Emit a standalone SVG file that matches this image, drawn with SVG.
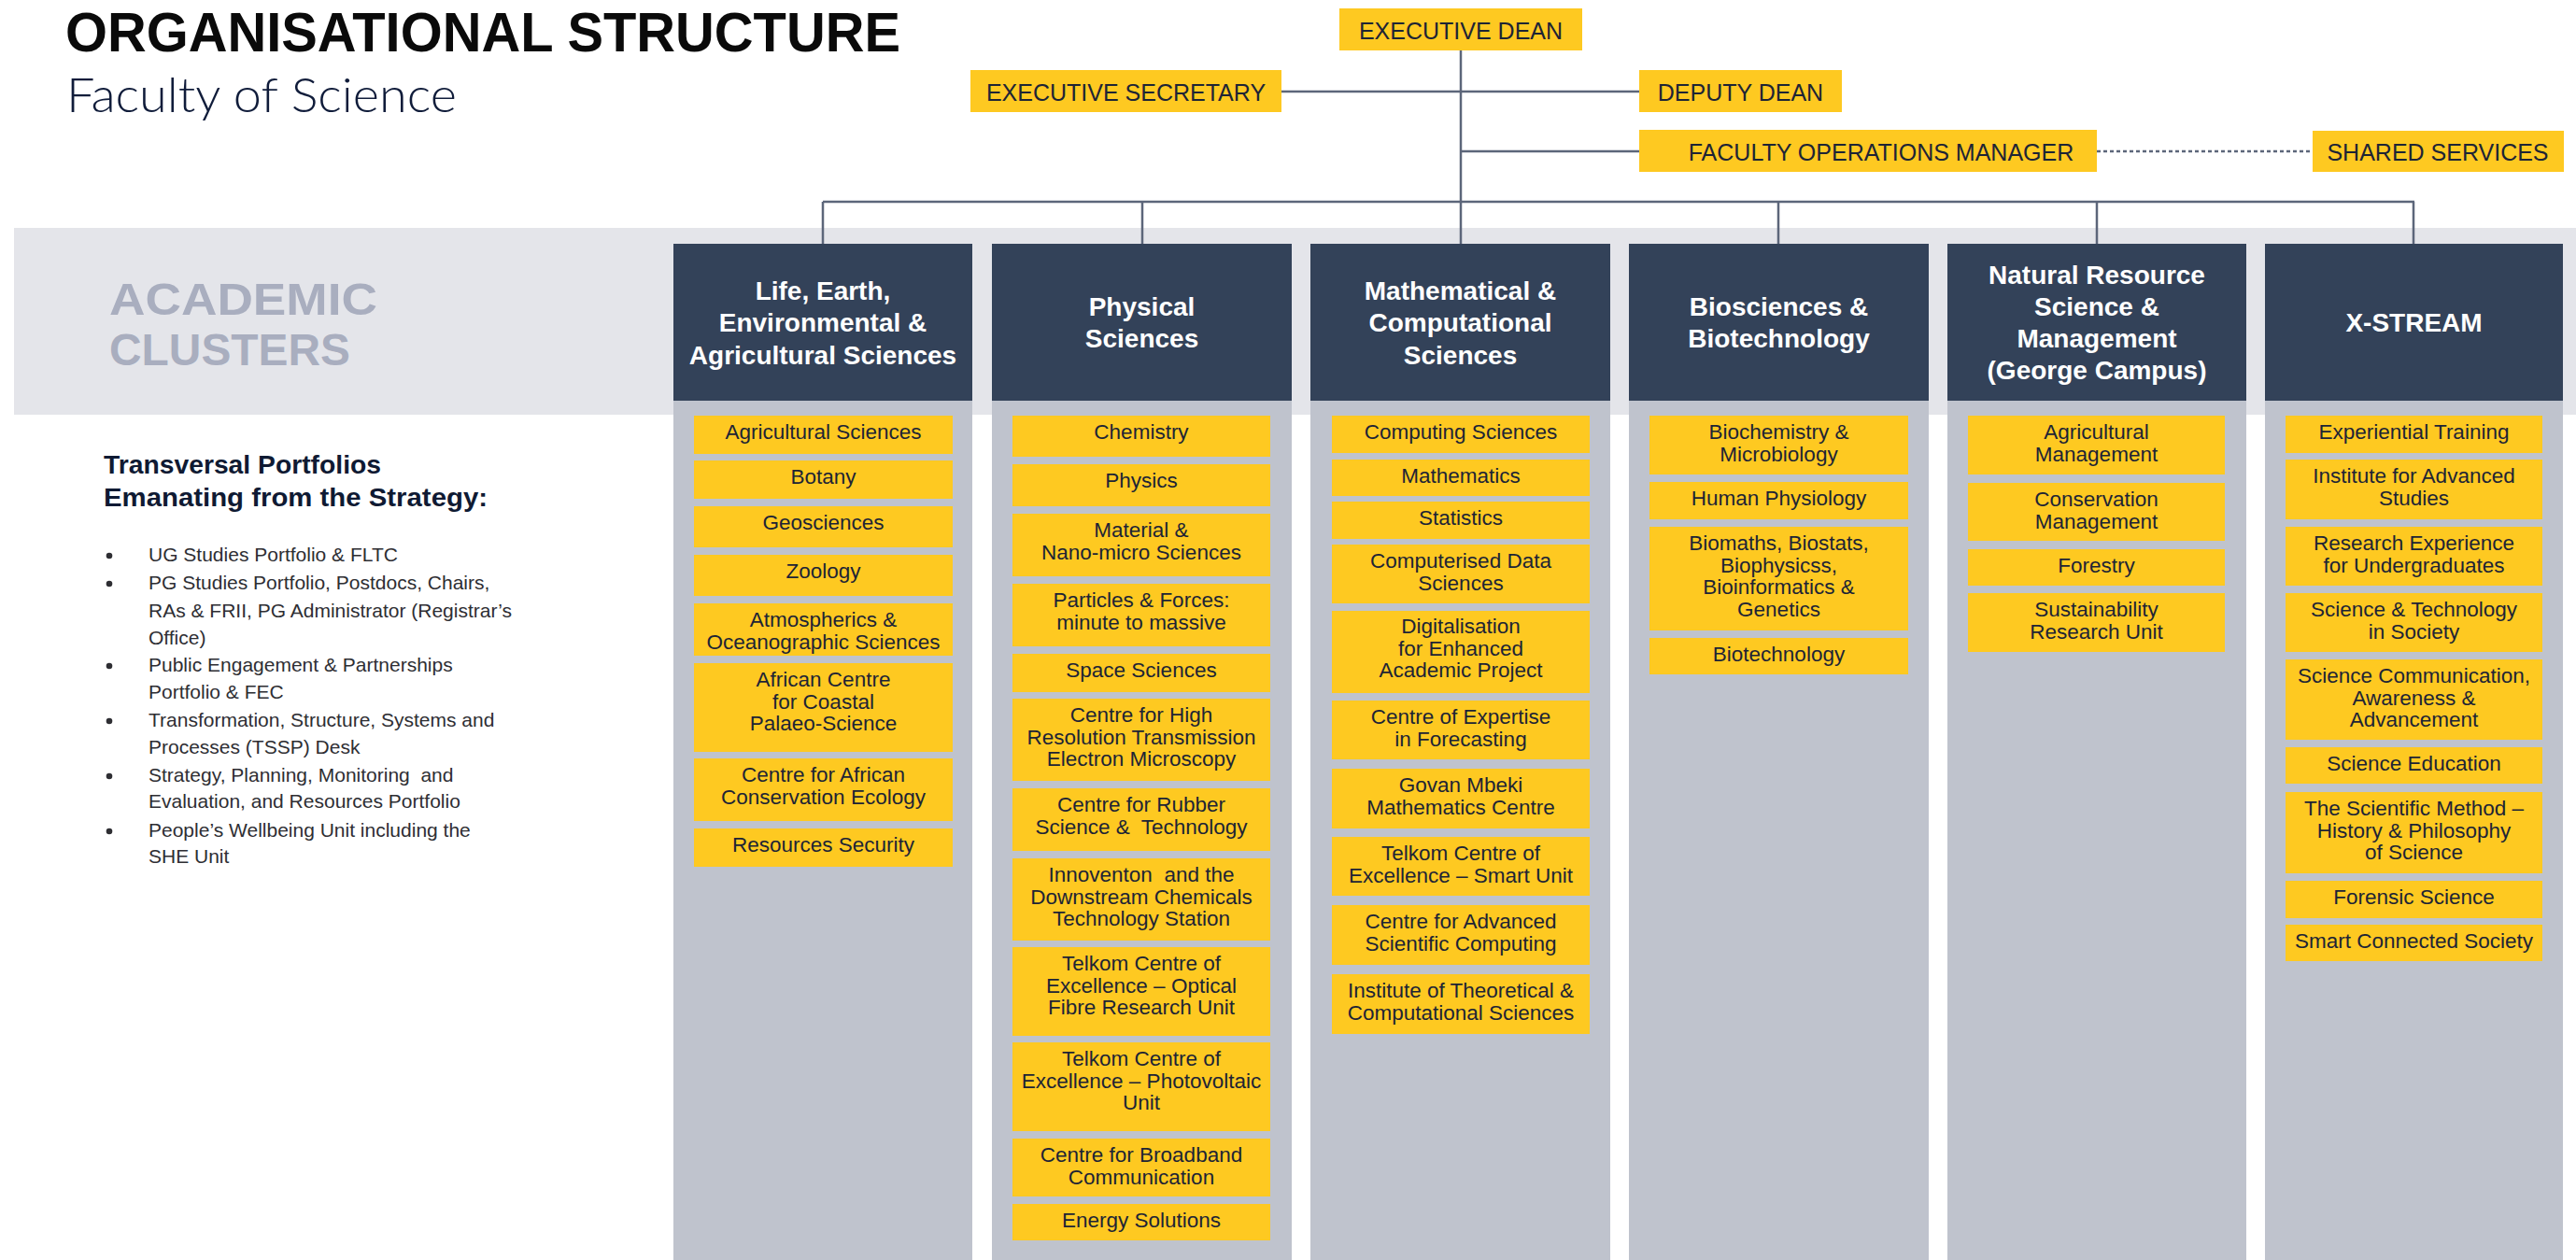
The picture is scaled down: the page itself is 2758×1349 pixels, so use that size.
<svg xmlns="http://www.w3.org/2000/svg" width="2758" height="1349" viewBox="0 0 2758 1349">
<style>
.t{font-family:"Liberation Sans",Arial,sans-serif}
.box{fill:#FEC921}
.hdr{fill:#334259}
.col{fill:#BFC3CD}
.it{font-family:"Liberation Sans",Arial,sans-serif;font-size:22.5px;fill:#1d2435;text-anchor:middle}
.pre{white-space:pre}
.ht{font-family:"Liberation Sans",Arial,sans-serif;font-size:28px;font-weight:bold;fill:#ffffff;text-anchor:middle}
.top{font-family:"Liberation Sans",Arial,sans-serif;font-size:25px;fill:#1d2435;text-anchor:middle}
.ln{stroke:#5c667a;stroke-width:2.5;fill:none}
.bl{font-family:"Liberation Sans",Arial,sans-serif;font-size:21px;fill:#2e2e33}
</style>
<rect width="2758" height="1349" fill="#ffffff"/>
<!-- band -->
<rect x="15" y="244" width="2743" height="200" fill="#E4E5EA"/>
<!-- titles -->
<g id="title">
<text class="t" x="70" y="55" font-size="60" font-weight="bold" fill="#0a0a0a" textLength="894" lengthAdjust="spacingAndGlyphs">ORGANISATIONAL STRUCTURE</text>
<text x="71" y="120" font-family="Lato,'Liberation Sans',sans-serif" font-weight="300" font-size="52" fill="#101c3a" textLength="418" lengthAdjust="spacingAndGlyphs">Faculty of Science</text>
</g>
<g id="academic-clusters-label">
<text class="t" x="117" y="337" font-size="48" font-weight="bold" fill="#A9AEBF" textLength="287" lengthAdjust="spacingAndGlyphs">ACADEMIC</text>
<text class="t" x="117" y="391" font-size="48" font-weight="bold" fill="#A9AEBF" textLength="258" lengthAdjust="spacingAndGlyphs">CLUSTERS</text>
</g>
<g id="transversal">
<text class="t" x="111" y="507" font-size="28" font-weight="bold" fill="#0f1a33" textLength="297" lengthAdjust="spacingAndGlyphs">Transversal Portfolios</text>
<text class="t" x="111" y="542" font-size="28" font-weight="bold" fill="#0f1a33" textLength="411" lengthAdjust="spacingAndGlyphs">Emanating from the Strategy:</text>
<g fill="#2e2e33">
<circle cx="117" cy="595" r="3.3"/>
<circle cx="117" cy="625" r="3.3"/>
<circle cx="117" cy="713" r="3.3"/>
<circle cx="117" cy="772" r="3.3"/>
<circle cx="117" cy="831" r="3.3"/>
<circle cx="117" cy="890" r="3.3"/>
</g>
<text class="bl pre" x="159" y="601">UG Studies Portfolio &amp; FLTC</text>
<text class="bl pre" x="159" y="631">PG Studies Portfolio, Postdocs, Chairs,</text>
<text class="bl pre" x="159" y="661">RAs &amp; FRII, PG Administrator (Registrar’s</text>
<text class="bl pre" x="159" y="690">Office)</text>
<text class="bl pre" x="159" y="719">Public Engagement &amp; Partnerships</text>
<text class="bl pre" x="159" y="748">Portfolio &amp; FEC</text>
<text class="bl pre" x="159" y="778">Transformation, Structure, Systems and</text>
<text class="bl pre" x="159" y="807">Processes (TSSP) Desk</text>
<text class="bl pre" x="159" y="837">Strategy, Planning, Monitoring  and</text>
<text class="bl pre" x="159" y="865">Evaluation, and Resources Portfolio</text>
<text class="bl pre" x="159" y="896">People’s Wellbeing Unit including the</text>
<text class="bl pre" x="159" y="924">SHE Unit</text>
</g>

<!-- connectors -->
<g id="connectors">
<path class="ln" d="M1564 54 V261"/>
<path class="ln" d="M1372 98 H1755"/>
<path class="ln" d="M1564 162 H1755"/>
<path class="ln" d="M2245 162 H2476" stroke-dasharray="4 3" stroke-width="3"/>
<path class="ln" d="M881 216 H2585"/>
<path class="ln" d="M881 216 V261 M1223 216 V261 M1904 216 V261 M2245 216 V261 M2584 216 V261"/>
</g>

<!-- top nodes -->
<g id="executive-dean"><rect class="box" x="1434" y="9" width="260" height="45"/><text class="top" x="1564" y="42">EXECUTIVE DEAN</text></g>
<g id="executive-secretary"><rect class="box" x="1039" y="75" width="333" height="45"/><text class="top" x="1205.5" y="108">EXECUTIVE SECRETARY</text></g>
<g id="deputy-dean"><rect class="box" x="1755" y="75" width="217" height="45"/><text class="top" x="1863.5" y="108">DEPUTY DEAN</text></g>
<g id="faculty-operations-manager"><rect class="box" x="1755" y="139" width="490" height="45"/><text class="top" x="2014" y="172">FACULTY OPERATIONS MANAGER</text></g>
<g id="shared-services"><rect class="box" x="2476" y="140" width="269" height="44"/><text class="top" x="2610" y="172">SHARED SERVICES</text></g>

<!-- column 1 -->
<g id="cluster-life-earth">
<rect class="col" x="721" y="429" width="320" height="920"/>
<rect class="hdr" x="721" y="261" width="320" height="168"/>
<text class="ht"><tspan x="881" y="321">Life, Earth,</tspan><tspan x="881" y="355.3">Environmental &amp;</tspan><tspan x="881" y="389.6">Agricultural Sciences</tspan></text>
</g>
<g id="c1-agri"><rect class="box" x="743" y="445" width="277" height="41"/><text class="it" x="881.5" y="470">Agricultural Sciences</text></g>
<g id="c1-botany"><rect class="box" x="743" y="493" width="277" height="41"/><text class="it" x="881.5" y="518">Botany</text></g>
<g id="c1-geo"><rect class="box" x="743" y="542" width="277" height="44"/><text class="it" x="881.5" y="567">Geosciences</text></g>
<g id="c1-zoo"><rect class="box" x="743" y="594" width="277" height="44"/><text class="it" x="881.5" y="619">Zoology</text></g>
<g id="c1-atmos"><rect class="box" x="743" y="646" width="277" height="56"/><text class="it"><tspan x="881.5" y="671">Atmospherics &amp;</tspan><tspan x="881.5" y="694.7">Oceanographic Sciences</tspan></text></g>
<g id="c1-african-coastal"><rect class="box" x="743" y="710" width="277" height="95"/><text class="it"><tspan x="881.5" y="735">African Centre</tspan><tspan x="881.5" y="758.7">for Coastal</tspan><tspan x="881.5" y="782.4">Palaeo-Science</tspan></text></g>
<g id="c1-conservation"><rect class="box" x="743" y="812" width="277" height="67"/><text class="it"><tspan x="881.5" y="837">Centre for African</tspan><tspan x="881.5" y="860.7">Conservation Ecology</tspan></text></g>
<g id="c1-resources"><rect class="box" x="743" y="887" width="277" height="41"/><text class="it" x="881.5" y="912">Resources Security</text></g>

<!-- column 2 -->
<g id="cluster-physical">
<rect class="col" x="1062" y="429" width="321" height="920"/>
<rect class="hdr" x="1062" y="261" width="321" height="168"/>
<text class="ht"><tspan x="1222.5" y="338">Physical</tspan><tspan x="1222.5" y="372.3">Sciences</tspan></text>
</g>
<g id="c2-chem"><rect class="box" x="1084" y="445" width="276" height="44"/><text class="it" x="1222" y="470">Chemistry</text></g>
<g id="c2-phys"><rect class="box" x="1084" y="497" width="276" height="45"/><text class="it" x="1222" y="522">Physics</text></g>
<g id="c2-material"><rect class="box" x="1084" y="550" width="276" height="67"/><text class="it"><tspan x="1222" y="575">Material &amp;</tspan><tspan x="1222" y="598.7">Nano-micro Sciences</tspan></text></g>
<g id="c2-particles"><rect class="box" x="1084" y="625" width="276" height="67"/><text class="it"><tspan x="1222" y="650">Particles &amp; Forces:</tspan><tspan x="1222" y="673.7">minute to massive</tspan></text></g>
<g id="c2-space"><rect class="box" x="1084" y="700" width="276" height="41"/><text class="it" x="1222" y="725">Space Sciences</text></g>
<g id="c2-hrtem"><rect class="box" x="1084" y="748" width="276" height="88"/><text class="it"><tspan x="1222" y="773">Centre for High</tspan><tspan x="1222" y="796.7">Resolution Transmission</tspan><tspan x="1222" y="820.4">Electron Microscopy</tspan></text></g>
<g id="c2-rubber"><rect class="box" x="1084" y="844" width="276" height="67"/><text class="it pre"><tspan x="1222" y="869">Centre for Rubber</tspan><tspan x="1222" y="892.7">Science &amp;  Technology</tspan></text></g>
<g id="c2-innoventon"><rect class="box" x="1084" y="919" width="276" height="88"/><text class="it pre"><tspan x="1222" y="944">Innoventon  and the</tspan><tspan x="1222" y="967.7">Downstream Chemicals</tspan><tspan x="1222" y="991.4">Technology Station</tspan></text></g>
<g id="c2-telkom-optical"><rect class="box" x="1084" y="1014" width="276" height="95"/><text class="it"><tspan x="1222" y="1039">Telkom Centre of</tspan><tspan x="1222" y="1062.7">Excellence – Optical</tspan><tspan x="1222" y="1086.4">Fibre Research Unit</tspan></text></g>
<g id="c2-telkom-pv"><rect class="box" x="1084" y="1116" width="276" height="95"/><text class="it"><tspan x="1222" y="1141">Telkom Centre of</tspan><tspan x="1222" y="1164.7">Excellence – Photovoltaic</tspan><tspan x="1222" y="1188.4">Unit</tspan></text></g>
<g id="c2-broadband"><rect class="box" x="1084" y="1219" width="276" height="62"/><text class="it"><tspan x="1222" y="1244">Centre for Broadband</tspan><tspan x="1222" y="1267.7">Communication</tspan></text></g>
<g id="c2-energy"><rect class="box" x="1084" y="1289" width="276" height="39"/><text class="it" x="1222" y="1314">Energy Solutions</text></g>

<!-- column 3 -->
<g id="cluster-math">
<rect class="col" x="1403" y="429" width="321" height="920"/>
<rect class="hdr" x="1403" y="261" width="321" height="168"/>
<text class="ht"><tspan x="1563.5" y="321">Mathematical &amp;</tspan><tspan x="1563.5" y="355.3">Computational</tspan><tspan x="1563.5" y="389.6">Sciences</tspan></text>
</g>
<g id="c3-computing"><rect class="box" x="1426" y="445" width="276" height="40"/><text class="it" x="1564" y="470">Computing Sciences</text></g>
<g id="c3-maths"><rect class="box" x="1426" y="492" width="276" height="39"/><text class="it" x="1564" y="517">Mathematics</text></g>
<g id="c3-stats"><rect class="box" x="1426" y="537" width="276" height="40"/><text class="it" x="1564" y="562">Statistics</text></g>
<g id="c3-data"><rect class="box" x="1426" y="583" width="276" height="63"/><text class="it"><tspan x="1564" y="608">Computerised Data</tspan><tspan x="1564" y="631.7">Sciences</tspan></text></g>
<g id="c3-digital"><rect class="box" x="1426" y="654" width="276" height="88"/><text class="it"><tspan x="1564" y="678">Digitalisation</tspan><tspan x="1564" y="701.7">for Enhanced</tspan><tspan x="1564" y="725.4">Academic Project</tspan></text></g>
<g id="c3-forecast"><rect class="box" x="1426" y="750" width="276" height="63"/><text class="it"><tspan x="1564" y="775">Centre of Expertise</tspan><tspan x="1564" y="798.7">in Forecasting</tspan></text></g>
<g id="c3-govan"><rect class="box" x="1426" y="823" width="276" height="64"/><text class="it"><tspan x="1564" y="848">Govan Mbeki</tspan><tspan x="1564" y="871.7">Mathematics Centre</tspan></text></g>
<g id="c3-telkom-smart"><rect class="box" x="1426" y="896" width="276" height="63"/><text class="it"><tspan x="1564" y="921">Telkom Centre of</tspan><tspan x="1564" y="944.7">Excellence – Smart Unit</tspan></text></g>
<g id="c3-advanced"><rect class="box" x="1426" y="969" width="276" height="64"/><text class="it"><tspan x="1564" y="994">Centre for Advanced</tspan><tspan x="1564" y="1017.7">Scientific Computing</tspan></text></g>
<g id="c3-theoretical"><rect class="box" x="1426" y="1043" width="276" height="64"/><text class="it"><tspan x="1564" y="1068">Institute of Theoretical &amp;</tspan><tspan x="1564" y="1091.7">Computational Sciences</tspan></text></g>

<!-- column 4 -->
<g id="cluster-bio">
<rect class="col" x="1744" y="429" width="321" height="920"/>
<rect class="hdr" x="1744" y="261" width="321" height="168"/>
<text class="ht"><tspan x="1904.5" y="338">Biosciences &amp;</tspan><tspan x="1904.5" y="372.3">Biotechnology</tspan></text>
</g>
<g id="c4-biochem"><rect class="box" x="1766" y="445" width="277" height="63"/><text class="it"><tspan x="1904.5" y="470">Biochemistry &amp;</tspan><tspan x="1904.5" y="493.7">Microbiology</tspan></text></g>
<g id="c4-physiology"><rect class="box" x="1766" y="516" width="277" height="40"/><text class="it" x="1904.5" y="541">Human Physiology</text></g>
<g id="c4-biomaths"><rect class="box" x="1766" y="564" width="277" height="111"/><text class="it"><tspan x="1904.5" y="589">Biomaths, Biostats,</tspan><tspan x="1904.5" y="612.7">Biophysicss,</tspan><tspan x="1904.5" y="636.4">Bioinformatics &amp;</tspan><tspan x="1904.5" y="660.1">Genetics</tspan></text></g>
<g id="c4-biotech"><rect class="box" x="1766" y="683" width="277" height="39"/><text class="it" x="1904.5" y="708">Biotechnology</text></g>

<!-- column 5 -->
<g id="cluster-natural-resource">
<rect class="col" x="2085" y="429" width="320" height="920"/>
<rect class="hdr" x="2085" y="261" width="320" height="168"/>
<text class="ht"><tspan x="2245" y="303.5">Natural Resource</tspan><tspan x="2245" y="337.8">Science &amp;</tspan><tspan x="2245" y="372.1">Management</tspan><tspan x="2245" y="406.4">(George Campus)</tspan></text>
</g>
<g id="c5-agri-mgmt"><rect class="box" x="2107" y="445" width="275" height="63"/><text class="it"><tspan x="2244.5" y="470">Agricultural</tspan><tspan x="2244.5" y="493.7">Management</tspan></text></g>
<g id="c5-conservation"><rect class="box" x="2107" y="517" width="275" height="62"/><text class="it"><tspan x="2244.5" y="542">Conservation</tspan><tspan x="2244.5" y="565.7">Management</tspan></text></g>
<g id="c5-forestry"><rect class="box" x="2107" y="588" width="275" height="39"/><text class="it" x="2244.5" y="613">Forestry</text></g>
<g id="c5-sustainability"><rect class="box" x="2107" y="635" width="275" height="63"/><text class="it"><tspan x="2244.5" y="660">Sustainability</tspan><tspan x="2244.5" y="683.7">Research Unit</tspan></text></g>

<!-- column 6 -->
<g id="cluster-xstream">
<rect class="col" x="2425" y="429" width="319" height="920"/>
<rect class="hdr" x="2425" y="261" width="319" height="168"/>
<text class="ht" x="2584.5" y="355">X-STREAM</text>
</g>
<g id="c6-experiential"><rect class="box" x="2447" y="445" width="275" height="40"/><text class="it" x="2584.5" y="470">Experiential Training</text></g>
<g id="c6-ias"><rect class="box" x="2447" y="492" width="275" height="64"/><text class="it"><tspan x="2584.5" y="517">Institute for Advanced</tspan><tspan x="2584.5" y="540.7">Studies</tspan></text></g>
<g id="c6-research"><rect class="box" x="2447" y="564" width="275" height="63"/><text class="it"><tspan x="2584.5" y="589">Research Experience</tspan><tspan x="2584.5" y="612.7">for Undergraduates</tspan></text></g>
<g id="c6-sts"><rect class="box" x="2447" y="635" width="275" height="63"/><text class="it"><tspan x="2584.5" y="660">Science &amp; Technology</tspan><tspan x="2584.5" y="683.7">in Society</tspan></text></g>
<g id="c6-scicomm"><rect class="box" x="2447" y="706" width="275" height="86"/><text class="it"><tspan x="2584.5" y="731">Science Communication,</tspan><tspan x="2584.5" y="754.7">Awareness &amp;</tspan><tspan x="2584.5" y="778.4">Advancement</tspan></text></g>
<g id="c6-scied"><rect class="box" x="2447" y="800" width="275" height="39"/><text class="it" x="2584.5" y="825">Science Education</text></g>
<g id="c6-method"><rect class="box" x="2447" y="848" width="275" height="87"/><text class="it"><tspan x="2584.5" y="873">The Scientific Method –</tspan><tspan x="2584.5" y="896.7">History &amp; Philosophy</tspan><tspan x="2584.5" y="920.4">of Science</tspan></text></g>
<g id="c6-forensic"><rect class="box" x="2447" y="943" width="275" height="40"/><text class="it" x="2584.5" y="968">Forensic Science</text></g>
<g id="c6-smart"><rect class="box" x="2447" y="990" width="275" height="39"/><text class="it" x="2584.5" y="1015">Smart Connected Society</text></g>
</svg>
